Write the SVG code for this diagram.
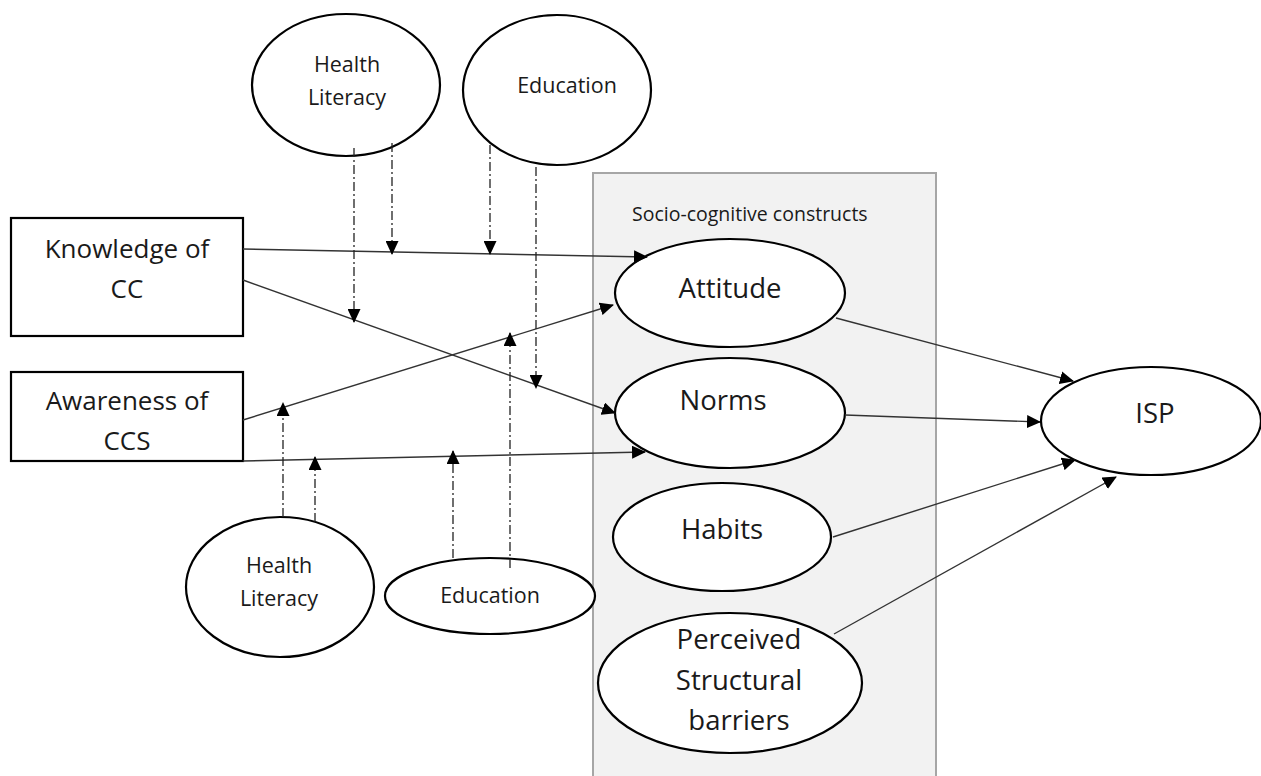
<svg xmlns="http://www.w3.org/2000/svg" width="1261" height="776" viewBox="0 0 1261 776">
<style>
.bg{fill:#ffffff}
.panel{fill:#f2f2f2;stroke:#a6a6a6;stroke-width:2}
.box{fill:#ffffff;stroke:#000;stroke-width:2.2}
.ell{fill:#ffffff;stroke:#000;stroke-width:2.2}
text{font-family:"Open Sans","Noto Sans","Liberation Sans",sans-serif;fill:#1a1a1a;text-anchor:middle}
.boxt{font-size:26px}
.big{font-size:27.5px}
.small{font-size:21.5px}
.cap{font-size:19.5px;text-anchor:start}
.solid{fill:none;stroke:#333;stroke-width:1.4}
.dd{fill:none;stroke:#222;stroke-width:1.3;stroke-dasharray:9 3 2 3}
</style>
<defs>
<marker id="ah" markerUnits="userSpaceOnUse" markerWidth="14" markerHeight="13" refX="13" refY="6.5" orient="auto">
<path d="M0,0 L14,6.5 L0,13 z" fill="#000"/>
</marker>
</defs>
<rect class="bg" x="0" y="0" width="1261" height="776"/>
<g id="panel">
<rect class="panel" x="593" y="173" width="343" height="640"/>
<text class="cap" x="632" y="221">Socio-cognitive  constructs</text>
</g>
<g id="knowledge">
<rect class="box" x="11" y="218" width="232" height="118"/>
<text class="boxt" x="127" y="258">Knowledge of</text>
<text class="boxt" x="127" y="298">CC</text>
</g>
<g id="awareness">
<rect class="box" x="11" y="372" width="232" height="89"/>
<text class="boxt" x="127" y="410">Awareness of</text>
<text class="boxt" x="127" y="450">CCS</text>
</g>
<g id="hl-top">
<ellipse class="ell" cx="346" cy="85" rx="94" ry="71"/>
<text class="small" x="347" y="72">Health</text>
<text class="small" x="347" y="105">Literacy</text>
</g>
<g id="edu-top">
<ellipse class="ell" cx="557" cy="90" rx="94" ry="75"/>
<text class="small" x="567" y="93">Education</text>
</g>
<g id="hl-bottom">
<ellipse class="ell" cx="280" cy="587" rx="94" ry="70"/>
<text class="small" x="279" y="573">Health</text>
<text class="small" x="279" y="606">Literacy</text>
</g>
<g id="edu-bottom">
<ellipse class="ell" cx="490" cy="596" rx="105" ry="38"/>
<text class="small" x="490" y="603">Education</text>
</g>
<g id="attitude">
<ellipse class="ell" cx="730" cy="293" rx="115" ry="54"/>
<text class="big" x="730" y="298">Attitude</text>
</g>
<g id="norms">
<ellipse class="ell" cx="730" cy="413" rx="115" ry="55"/>
<text class="big" x="723" y="410">Norms</text>
</g>
<g id="habits">
<ellipse class="ell" cx="722" cy="537" rx="109" ry="54"/>
<text class="big" x="722" y="539">Habits</text>
</g>
<g id="barriers">
<ellipse class="ell" cx="730" cy="683" rx="132" ry="70"/>
<text class="big" x="739" y="649">Perceived</text>
<text class="big" x="739" y="690">Structural</text>
<text class="big" x="739" y="730">barriers</text>
</g>
<g id="isp">
<ellipse class="ell" cx="1151" cy="421" rx="110" ry="54"/>
<text class="big" x="1155" y="423">ISP</text>
</g>
<g id="connectors">
<path class="solid" d="M243,249 L647,257" marker-end="url(#ah)"/>
<path class="solid" d="M243,280 L615,413" marker-end="url(#ah)"/>
<path class="solid" d="M243,420 L613,305" marker-end="url(#ah)"/>
<path class="solid" d="M243,461 L645,452" marker-end="url(#ah)"/>
<path class="solid" d="M836,318 L1073,381" marker-end="url(#ah)"/>
<path class="solid" d="M845,415 L1040,422" marker-end="url(#ah)"/>
<path class="solid" d="M833,537 L1075,460" marker-end="url(#ah)"/>
<path class="solid" d="M834,634 L1116,477" marker-end="url(#ah)"/>
<path class="dd" d="M354,148 L354,322" marker-end="url(#ah)"/>
<path class="dd" d="M392,143 L392,254" marker-end="url(#ah)"/>
<path class="dd" d="M490,145 L490,254" marker-end="url(#ah)"/>
<path class="dd" d="M536,167 L536,388" marker-end="url(#ah)"/>
<path class="dd" d="M283,517 L283,403" marker-end="url(#ah)"/>
<path class="dd" d="M315,522 L315,457" marker-end="url(#ah)"/>
<path class="dd" d="M453,558 L453,451" marker-end="url(#ah)"/>
<path class="dd" d="M510,568 L510,333" marker-end="url(#ah)"/>
</g>
</svg>
